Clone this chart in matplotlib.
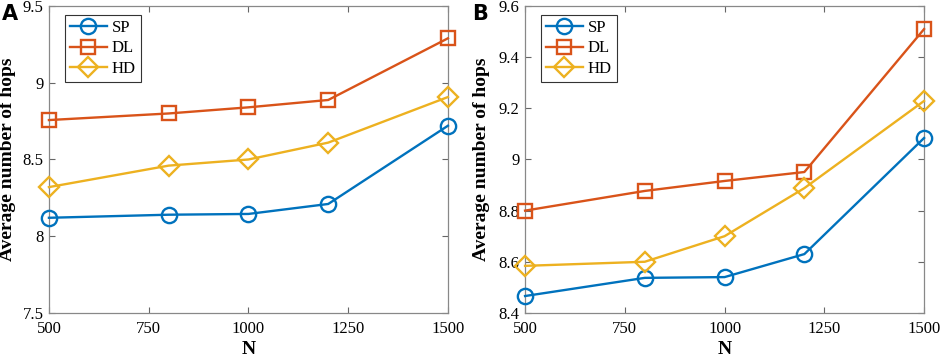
import matplotlib.pyplot as plt

N = [500, 800, 1000, 1200, 1500]

sp_a = [8.12, 8.14, 8.145, 8.21, 8.72]
dl_a = [8.757, 8.80, 8.84, 8.888, 9.29]
hd_a = [8.32, 8.46, 8.50, 8.61, 8.907]

sp_b = [8.466, 8.537, 8.54, 8.63, 9.084]
dl_b = [8.80, 8.877, 8.916, 8.951, 9.51]
hd_b = [8.584, 8.60, 8.70, 8.888, 9.229]

plt.rcParams['font.family'] = ['Liberation Serif', 'DejaVu Serif']

colors = ['#0072BD', '#D95319', '#EDB120']
markers = ['o', 's', 'D']
names = ['SP', 'DL', 'HD']
msizes = [11, 10, 10]


def draw(ax, series, ylim, yticks, yticklabels, ylabel_x):
    for vals, c, m, ms, name in zip(series, colors, markers, msizes, names):
        ax.plot(N, vals, color=c, marker=m, markersize=ms, markerfacecolor='none',
                markeredgewidth=1.7, linewidth=1.7, label=name, clip_on=False, zorder=3)
    ax.set_xlim(500, 1500)
    ax.set_ylim(*ylim)
    ax.set_xticks([500, 750, 1000, 1250, 1500])
    ax.set_yticks(yticks)
    ax.set_yticklabels(yticklabels)
    ax.tick_params(direction='in', labelsize=12, color='#666666', top=True, right=True,
                   length=4, pad=4)
    ax.tick_params(axis='x', pad=6)
    for s in ax.spines.values():
        s.set_color('#888888')
        s.set_linewidth(0.9)
    ax.set_xlabel('N', fontsize=14, fontweight='bold')
    ax.xaxis.set_label_coords(0.5, -0.09)
    ax.set_ylabel('Average number of hops', fontsize=14, fontweight='bold')
    ax.yaxis.set_label_coords(ylabel_x, 0.5)
    leg = ax.legend(loc='upper left', bbox_to_anchor=(0.04, 0.97), fontsize=12,
                    fancybox=False, edgecolor='#333333', framealpha=1,
                    handlelength=2.2, borderpad=0.3, labelspacing=0.25,
                    handletextpad=0.3, borderaxespad=0)
    leg.get_frame().set_linewidth(0.8)


fig = plt.figure(figsize=(9.41, 3.58), dpi=100)
ax1 = fig.add_axes([0.052, 0.126, 0.424, 0.857])
ax2 = fig.add_axes([0.558, 0.126, 0.424, 0.857])

draw(ax1, [sp_a, dl_a, hd_a], (7.5, 9.5), [7.5, 8, 8.5, 9, 9.5],
     ['7.5', '8', '8.5', '9', '9.5'], -0.082)
draw(ax2, [sp_b, dl_b, hd_b], (8.4, 9.6), [8.4, 8.6, 8.8, 9, 9.2, 9.4, 9.6],
     ['8.4', '8.6', '8.8', '9', '9.2', '9.4', '9.6'], -0.088)

fig.text(0.002, 0.962, 'A', fontsize=15, fontweight='bold', family='DejaVu Sans', va='center')
fig.text(0.502, 0.962, 'B', fontsize=15, fontweight='bold', family='DejaVu Sans', va='center')

fig.savefig('out.png', dpi=100)
